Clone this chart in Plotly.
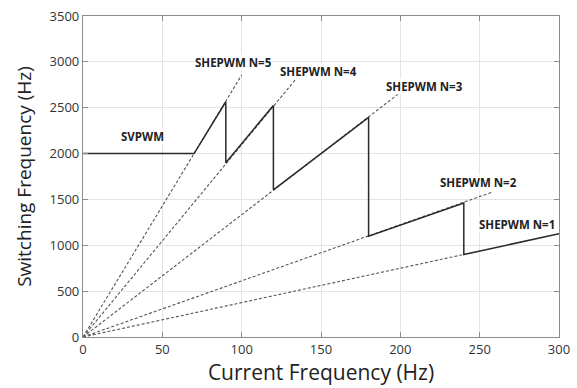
import plotly.graph_objects as go

# Solid operating curve
curve_x = [0, 70, 90, 90, 120, 120, 180, 180, 240, 240, 300]
curve_y = [2000, 2000, 2565, 1900, 2525, 1605, 2395, 1100, 1460, 900, 1125]

# Dashed SHEPWM lines from origin (end points)
dash_names = ["N=5", "N=4", "N=3", "N=2", "N=1"]
dash_end_x = [100, 135, 200, 258, 240]
dash_end_y = [2857, 2830, 2667, 1580, 900]

# Labels
label_text = ["SVPWM", "SHEPWM N=5", "SHEPWM N=4", "SHEPWM N=3", "SHEPWM N=2", "SHEPWM N=1"]
label_x = [37.5, 95, 148.5, 215, 249, 273.5]
label_y = [2185, 2990, 2900, 2730, 1686, 1222]

x_ticks = [0, 50, 100, 150, 200, 250, 300]
y_ticks = [0, 500, 1000, 1500, 2000, 2500, 3000, 3500]

fig = go.Figure()
for n, ex, ey in zip(dash_names, dash_end_x, dash_end_y):
    fig.add_trace(go.Scatter(x=[0, ex], y=[0, ey], mode="lines", name=n,
                             line=dict(color="#555555", width=1.1, dash="3px,2px"),
                             showlegend=False, hoverinfo="skip"))
fig.add_trace(go.Scatter(x=curve_x, y=curve_y, mode="lines",
                         line=dict(color="#2a2a2a", width=1.5), showlegend=False))

for t, x, y in zip(label_text, label_x, label_y):
    fig.add_annotation(x=x, y=y, text="<b>" + t + "</b>", showarrow=False,
                       font=dict(family="Open Sans", size=11.5, color="#222222"),
                       bgcolor="rgba(255,255,255,0.85)", borderpad=0)

axis_common = dict(showgrid=True, gridcolor="#e4e4e4", gridwidth=1,
                   showline=True, linecolor="#8c8c8c", linewidth=1.2,
                   mirror="ticks", ticks="inside", ticklen=5, tickcolor="#8c8c8c",
                   zeroline=False, ticklabeloverflow="allow",
                   tickfont=dict(family="Open Sans", size=13, color="#333333"))

fig.update_xaxes(range=[0, 300], tickvals=x_ticks,
                 title=dict(text="Current Frequency (Hz)", standoff=4,
                            font=dict(family="Open Sans", size=21, color="#222222")),
                 **axis_common)
fig.update_yaxes(range=[0, 3500], tickvals=y_ticks,
                 title=dict(text="Switching Frequency (Hz)", standoff=12,
                            font=dict(family="Open Sans", size=19, color="#222222")),
                 **axis_common)

fig.update_layout(width=577, height=388, margin=dict(l=83, r=16, t=7, b=51),
                  plot_bgcolor="white", paper_bgcolor="white")

fig.write_html("out.html")
